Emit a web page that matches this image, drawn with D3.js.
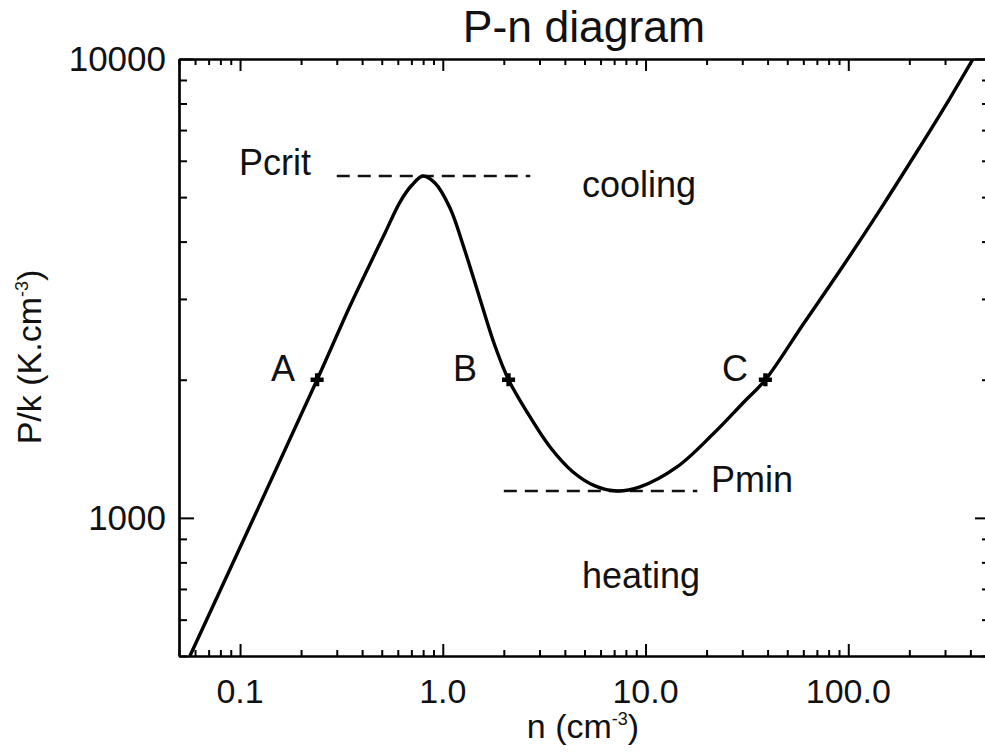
<!DOCTYPE html>
<html>
<head>
<meta charset="utf-8">
<script src="https://cdn.jsdelivr.net/npm/d3@7"></script>
<style>
  html, body { margin: 0; padding: 0; background: #fff; }
  svg text { font-family: "Liberation Sans", Arial, Helvetica, sans-serif; fill: #111; }
</style>
</head>
<body>
<svg id="chart" width="985" height="754"></svg>
<script>
// ---- data ----
const curveN = [0.0566, 0.24, 0.3486, 0.4376, 0.5188, 0.6152, 0.7048, 0.799, 0.9153, 1.0854, 1.2727, 1.5259, 1.8095, 2.11, 2.602, 3.38, 4.388, 5.633, 7.234, 9.391, 14.3, 21.52, 30.25, 39, 59.8, 94.2, 143.4, 218.3, 317.6, 412.3];
const curveP = [500, 2000, 2896, 3575, 4177, 4879, 5313, 5559, 5367, 4734, 3874, 2999, 2369, 2000, 1701, 1427, 1259, 1174, 1144, 1168, 1291, 1523, 1780, 2000, 2639, 3539, 4692, 6286, 8222, 10000];
const markerN = [0.24, 2.11, 39];
const markerP = [2000, 2000, 2000];
const markerLabels = ["A", "B", "C"];
const pcritLevel = 5559, pcritRange = [0.3, 2.7];
const pminLevel = 1144, pminRange = [2.0, 18];
const xTickValues = [0.1, 1, 10, 100];
const xTickLabels = ["0.1", "1.0", "10.0", "100.0"];
const yTickValues = [1000, 10000];
const yTickLabels = ["1000", "10000"];
const xDomain = [0.05, 500];
const yDomain = [500, 10000];

// ---- layout ----
const svg = d3.select("#chart");
const mLeft = 179, mRight = 990, mTop = 59, mBottom = 656;

const x = d3.scaleLog().domain(xDomain).range([mLeft, mRight]);
const y = d3.scaleLog().domain(yDomain).range([mBottom, mTop]);

// minor ticks (2..9 in each decade)
function minors(domain) {
  const out = [];
  const lo = Math.floor(Math.log10(domain[0])), hi = Math.ceil(Math.log10(domain[1]));
  for (let e = lo; e <= hi; e++) {
    for (let m = 1; m <= 9; m++) {
      const v = m * Math.pow(10, e);
      if (v >= domain[0] * 0.9999 && v <= domain[1] * 1.0001) out.push(v);
    }
  }
  return out;
}
const isMajor = (v, majors) => majors.some(t => Math.abs(t - v) / t < 1e-9);
const xMinor = minors(xDomain).filter(v => !isMajor(v, xTickValues));
const yMinor = minors(yDomain).filter(v => !isMajor(v, yTickValues));

const axisColor = "#000";
const axes = svg.append("g").attr("class", "axes");

function addAxis(gen, tx, ty) {
  const a = axes.append("g").attr("transform", `translate(${tx},${ty})`).call(gen);
  a.selectAll("text").remove();
  return a;
}
// bottom
addAxis(d3.axisBottom(x).tickValues(xTickValues).tickSizeInner(-12).tickSizeOuter(0).tickFormat(() => ""), 0, mBottom);
addAxis(d3.axisBottom(x).tickValues(xMinor).tickSizeInner(-6).tickSizeOuter(0).tickFormat(() => ""), 0, mBottom);
// top
addAxis(d3.axisTop(x).tickValues(xTickValues).tickSizeInner(-12).tickSizeOuter(0).tickFormat(() => ""), 0, mTop);
addAxis(d3.axisTop(x).tickValues(xMinor).tickSizeInner(-6).tickSizeOuter(0).tickFormat(() => ""), 0, mTop);
// left
addAxis(d3.axisLeft(y).tickValues(yTickValues).tickSizeInner(-15).tickSizeOuter(0).tickFormat(() => ""), mLeft, 0);
addAxis(d3.axisLeft(y).tickValues(yMinor).tickSizeInner(-8).tickSizeOuter(0).tickFormat(() => ""), mLeft, 0);
// right
addAxis(d3.axisRight(y).tickValues(yTickValues).tickSizeInner(-15).tickSizeOuter(0).tickFormat(() => ""), mRight, 0);
addAxis(d3.axisRight(y).tickValues(yMinor).tickSizeInner(-8).tickSizeOuter(0).tickFormat(() => ""), mRight, 0);

axes.selectAll("path.domain").attr("stroke", axisColor).attr("stroke-width", 2.2).attr("fill", "none");
axes.selectAll("g.tick line").attr("stroke", axisColor).attr("stroke-width", 2);

// tick labels
svg.append("g").selectAll("text").data(xTickValues).join("text")
  .attr("x", d => x(d)).attr("y", 703)
  .attr("text-anchor", "middle").attr("font-size", 34)
  .text((d, i) => xTickLabels[i]);
svg.append("g").selectAll("text").data(yTickValues).join("text")
  .attr("x", 166).attr("y", d => y(d) + 12)
  .attr("text-anchor", "end").attr("font-size", 35)
  .text((d, i) => yTickLabels[i]);

// title
svg.append("text").attr("x", 584).attr("y", 42).attr("text-anchor", "middle")
  .attr("font-size", 44.5).text("P-n diagram");

// x axis title
const xtitle = svg.append("text").attr("x", 583).attr("y", 738).attr("text-anchor", "middle").attr("font-size", 34);
xtitle.append("tspan").text("n (cm");
xtitle.append("tspan").attr("font-size", 18).attr("dy", -13).text("-3");
xtitle.append("tspan").attr("dy", 13).text(")");

// y axis title
const ytitle = svg.append("text").attr("transform", "translate(41,357) rotate(-90)")
  .attr("text-anchor", "middle").attr("font-size", 34);
ytitle.append("tspan").text("P/k (K.cm");
ytitle.append("tspan").attr("font-size", 18).attr("dy", -13).text("-3");
ytitle.append("tspan").attr("dy", 13).text(")");

// clip
svg.append("clipPath").attr("id", "clip").append("rect")
  .attr("x", mLeft).attr("y", mTop).attr("width", mRight - mLeft).attr("height", mBottom - mTop);

const plot = svg.append("g").attr("clip-path", "url(#clip)");

// dashed reference lines
const dashStyle = sel => sel.attr("stroke", "#111").attr("stroke-width", 2.4).attr("stroke-dasharray", "13,8");
plot.append("line").attr("x1", x(pcritRange[0])).attr("x2", x(pcritRange[1]))
  .attr("y1", y(pcritLevel)).attr("y2", y(pcritLevel)).call(dashStyle);
plot.append("line").attr("x1", x(pminRange[0])).attr("x2", x(pminRange[1]))
  .attr("y1", y(pminLevel)).attr("y2", y(pminLevel)).call(dashStyle);

// curve
const pts = curveN.map((n, i) => [n, curveP[i]]);
const line = d3.line().x(d => x(d[0])).y(d => y(d[1])).curve(d3.curveCatmullRom.alpha(0.5));
plot.append("path").datum(pts).attr("d", line)
  .attr("fill", "none").attr("stroke", "#000").attr("stroke-width", 3.4).attr("stroke-linejoin", "round");

// markers
plot.append("g").selectAll("path").data(markerN).join("path")
  .attr("transform", (d, i) => `translate(${x(d)},${y(markerP[i])})`)
  .attr("d", d3.symbol().type(d3.symbolCross).size(95))
  .attr("fill", "#000");

// annotations
const ann = svg.append("g").attr("font-size", 36);
const labelEnds = [295, 477, 748];
ann.selectAll("text.mk").data(markerLabels).join("text").attr("class", "mk")
  .attr("x", (d, i) => labelEnds[i]).attr("y", 381).attr("text-anchor", "end").text(d => d);
ann.append("text").attr("x", 239).attr("y", 175).text("Pcrit");
ann.append("text").attr("x", 711).attr("y", 492).text("Pmin");
ann.append("text").attr("x", 582).attr("y", 197).text("cooling");
ann.append("text").attr("x", 582).attr("y", 588).text("heating");
</script>
</body>
</html>
